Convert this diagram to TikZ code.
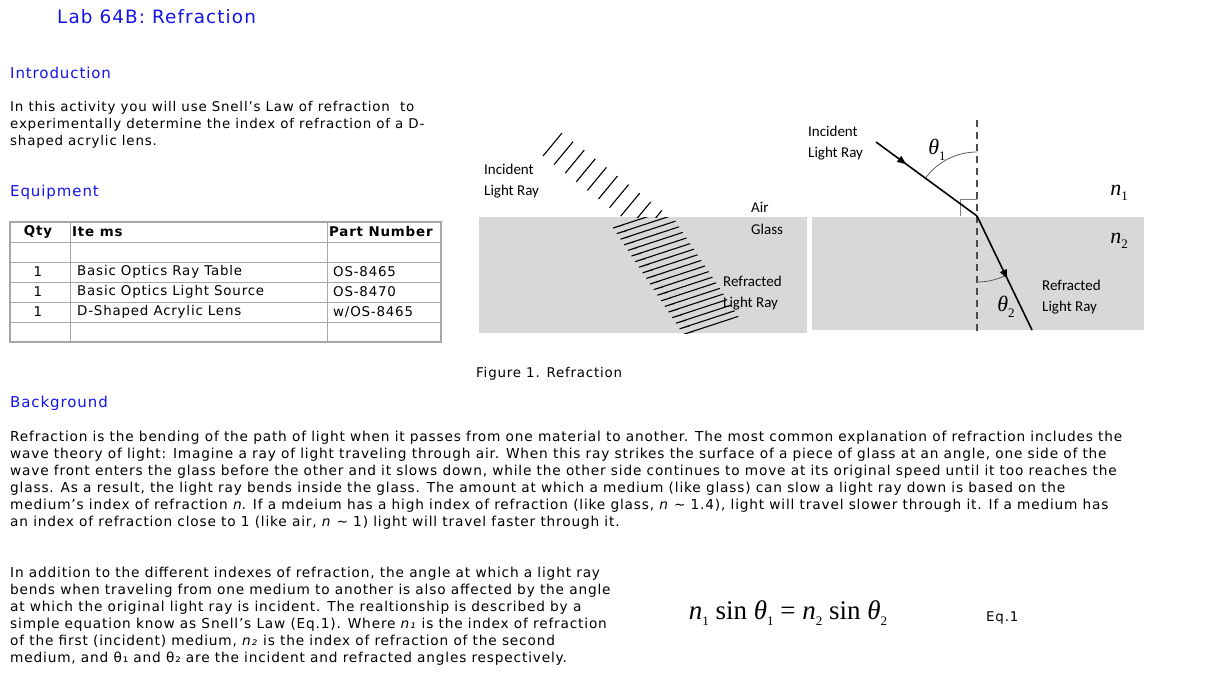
\documentclass[tikz,border=0pt]{standalone}
\usepackage{fontspec}
\setmainfont[LetterSpace=6]{DejaVu Sans}
\newfontfamily\calfont{Carlito}
\newfontfamily\tms{Liberation Serif}
\usetikzlibrary{decorations.markings,arrows.meta}
\definecolor{hd}{RGB}{20,20,235}
\definecolor{gl}{RGB}{216,216,216}
\newcommand{\eqsub}[1]{\raisebox{-0.25em}{\upshape\fontsize{13}{13}\selectfont #1}}
\begin{document}
\begin{tikzpicture}[x=1pt,y=-1pt,
  body/.style={anchor=west,inner sep=0pt,font=\fontsize{13.7}{17}\selectfont,align=left},
  head/.style={anchor=west,inner sep=0pt,text=hd,font=\fontsize{15}{18}\selectfont},
  lab/.style={anchor=west,inner sep=0pt,font=\calfont\fontsize{15}{21}\selectfont,align=left},
  tb/.style={draw=gray!70,line width=1.2pt},
  cell/.style={anchor=west,inner sep=0pt,font=\fontsize{13.4}{14}\selectfont},
  gk/.style={font=\tms\itshape\fontsize{22}{22}\selectfont,inner sep=0pt},
  ray/.style={line width=1.6pt,postaction={decorate},decoration={markings,mark=at position 0.3 with {\arrow{Triangle[length=9pt,width=7pt]}}}},
  ray2/.style={line width=1.6pt,postaction={decorate},decoration={markings,mark=at position 0.55 with {\arrow{Triangle[length=9pt,width=7pt]}}}}]
\useasboundingbox (0,0) rectangle (1227,683);
\node[head,font=\fontsize{18.4}{20}\selectfont] (title) at (57,17) {Lab 64B: Refraction};
\node[head] (intro) at (10,73) {Introduction};
\node[body,font=\fontsize{13.4}{17}\selectfont] (introtxt) at (10,125) {In this activity you will use Snell’s Law of refraction\ \ to\\experimentally determine the index of refraction of a D-\\shaped acrylic lens.};
\node[head] (equip) at (10,192) {Equipment};
% table
\draw[tb] (10,222) rectangle (441,342);
\foreach \y in {242,262,282,302,322} \draw[gray!70,line width=0.9pt] (10,\y) -- (441,\y);
\foreach \x in {70,327} \draw[gray!70,line width=0.9pt] (\x,222) -- (\x,342);
\node[cell,font=\bfseries\fontsize{13.4}{14}\selectfont,anchor=center] (q) at (38,232) {Qty};
\node[cell,font=\bfseries\fontsize{13.4}{14}\selectfont] (it) at (72,232) {Ite ms};
\node[cell,font=\bfseries\fontsize{13.4}{14}\selectfont] (pn) at (329,232) {Part Number};
\node[cell,anchor=center] (q1) at (38,272) {1};
\node[cell,anchor=center] (q2) at (38,292) {1};
\node[cell,anchor=center] (q3) at (38,312) {1};
\node[cell] (i1) at (77,272) {Basic Optics Ray Table};
\node[cell] (i2) at (77,292) {Basic Optics Light Source};
\node[cell] (i3) at (77,312) {D-Shaped Acrylic Lens};
\node[cell] (p1) at (333,272) {OS-8465};
\node[cell] (p2) at (333,292) {OS-8470};
\node[cell] (p3) at (333,312) {w/OS-8465};
% left figure
\fill[gl] (479,217) rectangle (807,333);
\begin{scope}
\clip (470,100) rectangle (807,217);
\foreach \i in {0,...,9} \draw[line width=1.1pt] ({562+11.1*\i},{133+8.6*\i}) -- ++(-19,23);
\end{scope}
\begin{scope}
\clip (479,217) rectangle (807,333);
\foreach \i in {0,...,19} \draw[line width=1.1pt] ({623+3.7*\i},{225+5.6*\i}) -- ++(-10,3) -- ++(55,-18);
\end{scope}
\node[lab] (inc1) at (484,181) {Incident\\Light Ray};
\node[lab] (air) at (751,207) {Air};
\node[lab] (glass) at (751,229) {Glass};
\node[lab] (ref1) at (723,293) {Refracted\\Light Ray};
% right figure
\fill[gl] (812,217) rectangle (1144,330);
\coordinate (O) at (977,216);
\coordinate (top) at (977,120);
\coordinate (bot) at (977,332);
\coordinate (A) at (876,142);
\coordinate (B) at (1032,330);
\draw[gray!60!black,line width=1.3pt,dash pattern=on 7pt off 5pt] (top) -- (bot);
\draw[gray,line width=0.8pt] (960,216) -- (960,199) -- (977,199);
\draw[gray!60!black,line width=0.7pt] ([shift={(O)}]216.2:64) arc[start angle=216.2,end angle=270,radius=64];
\draw[gray!60!black,line width=0.7pt] ([shift={(O)}]90:66) arc[start angle=90,end angle=64.2,radius=66];
\draw[ray] (A) -- (O);
\draw[ray2] (O) -- (B);
\node[lab] (inc2) at (808,143) {Incident\\Light Ray};
\node[lab] (ref2) at (1042,297) {Refracted\\Light Ray};
\node[gk] (t1) at (937,150) {θ\eqsub{1}};
\node[gk] (t2) at (1006,307) {θ\eqsub{2}};
\node[gk] (n1) at (1119,193) {n\eqsub{1}};
\node[gk] (n2) at (1119,241) {n\eqsub{2}};
\node[body,font=\fontsize{13.4}{17}\selectfont] (cap) at (476,374) {Figure 1. Refraction};
\node[head] (bg) at (10,403) {Background};
\node[body] (bgtxt) at (10,480) {Refraction is the bending of the path of light when it passes from one material to another. The most common explanation of refraction includes the\\wave theory of light: Imagine a ray of light traveling through air. When this ray strikes the surface of a piece of glass at an angle, one side of the\\wave front enters the glass before the other and it slows down, while the other side continues to move at its original speed until it too reaches the\\glass. As a result, the light ray bends inside the glass. The amount at which a medium (like glass) can slow a light ray down is based on the\\medium's index of refraction \textit{n}. If a mdeium has a high index of refraction (like glass, \textit{n} \textasciitilde\ 1.4), light will travel slower through it. If a medium has\\an index of refraction close to 1 (like air, \textit{n} \textasciitilde\ 1) light will travel faster through it.};
\node[body] (snell) at (10,616) {In addition to the different indexes of refraction, the angle at which a light ray\\bends when traveling from one medium to another is also affected by the angle\\at which the original light ray is incident. The realtionship is described by a\\simple equation know as Snell's Law (Eq.1). Where \textit{n₁} is the index of refraction\\of the first (incident) medium, \textit{n₂} is the index of refraction of the second\\medium, and θ₁ and θ₂ are the incident and refracted angles respectively.};
\node[inner sep=0pt,font=\tms\fontsize{27}{27}\selectfont] (eq) at (788,613) {\textit{n}\eqsub{1} sin \textit{θ}\eqsub{1} = \textit{n}\eqsub{2} sin \textit{θ}\eqsub{2}};
\node[body,font=\fontsize{13.4}{17}\selectfont] (eqn) at (986,618) {Eq.1};
\end{tikzpicture}
\end{document}
